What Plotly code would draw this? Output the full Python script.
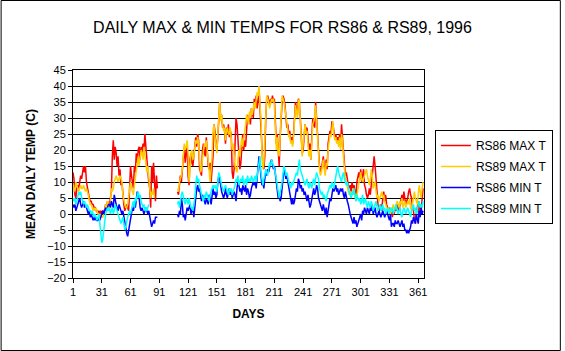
import plotly.graph_objects as go

days = list(range(1, 367))
gap = [None] * 20  # days 90-109: no data

rs86_max = [
    13, 11, 6, 5, 8, 9, 8, 10, 12, 11,
    14, 15, 13, 15, 10, 8, 7, 5, 4, 4,
    3, 3, 2, 2, 1, 1, 0, 1, 0, 1,
    0, 1, 0, 2, 3, 2, 4, 3, 3, 5,
    7, 18, 23, 17, 21, 19, 15, 18, 12, 14,
    9, 10, 5, 3, 1, 2, 3, 2, 1, 8,
    15, 12, 10, 8, 15, 13, 19, 16, 20, 21,
    17, 21, 19, 22, 20, 25, 21, 17, 12, 10,
    8, 2, 15, 10, 16, 7, 4, 12, 8,
] + gap + [
    7, 6, 9, 12, 10, 13, 18, 21, 16, 20,
    22, 12, 9, 17, 19, 16, 15, 18, 22, 24,
    21, 25, 23, 14, 13, 12, 20, 22, 19, 18,
    24, 17, 15, 14, 16, 10, 15, 18, 28, 26,
    22, 20, 24, 33, 35, 30, 31, 27, 28, 26,
    22, 27, 25, 28, 24, 26, 25, 13, 11, 14,
    24, 30, 28, 22, 18, 14, 16, 22, 25, 20,
    23, 21, 28, 31, 29, 30, 28, 33, 32, 30,
    36, 34, 37, 33, 35, 39, 33, 28, 22, 15,
    14, 18, 30, 36, 37, 35, 34, 36, 35, 37,
    35, 36, 30, 22, 25, 20, 15, 24, 30, 35,
    37, 36, 34, 30, 27, 28, 25, 26, 23, 24,
    22, 25, 30, 35, 33, 31, 36, 35, 30, 22,
    19, 20, 25, 28, 26, 27, 24, 20, 22, 17,
    24, 30, 28, 27, 35, 30, 25, 19, 15, 13,
    14, 16, 18, 15, 13, 17, 14, 22, 25, 26,
    25, 29, 28, 26, 24, 25, 23, 24, 22, 25,
    21, 28, 24, 17, 14, 12, 13, 10, 9, 8,
    9, 7, 10, 8, 9, 7, 5, 10, 12, 13,
    11, 14, 10, 12, 14, 9, 8, 6, 5, 6,
    8, 6, 9, 10, 13, 18, 15, 10, 5, 3,
    2, 1, 3, 1, 5, 7, 4, 6, 3, 2,
    1, 2, 0, 1, -1, 1, 0, 2, 1, 3,
    2, 1, 3, 5, 6, 4, 7, 5, 3, 4,
    5, 7, 8, 6, 5, 2, 1, -2, -3, 0,
    2, 4, -1, 3, 1, 5, 8,
]

rs89_max = [
    9, 7, 8, 10, 9, 8, 7, 8, 9, 8,
    8, 9, 8, 7, 8, 7, 6, 4, 3, 3,
    2, 1, 2, 1, 2, 1, 0, 0, -1, 0,
    -1, -1, 0, 1, 3, 2, 4, 3, 2, 3,
    8, 7, 8, 10, 11, 12, 11, 10, 11, 12,
    11, 10, 6, 4, 3, 2, 2, 3, 5, 7,
    10, 8, 7, 6, 9, 11, 13, 16, 18, 15,
    18, 20, 19, 17, 21, 18, 16, 13, 15, 12,
    10, 5, 7, 6, 8, 5, None, None, None,
] + gap + [
    8, 7, 10, 11, 12, 14, 18, 22, 20, 21,
    23, 19, 10, 16, 19, 20, 17, 18, 21, 23,
    22, 24, 22, 15, 13, 14, 18, 20, 22, 21,
    23, 20, 17, 12, 10, 14, 18, 26, 28, 24,
    21, 19, 25, 32, 35, 29, 31, 28, 26, 27,
    23, 26, 27, 25, 25, 27, 24, 20, 22, 17,
    15, 14, 13, 17, 20, 18, 22, 24, 21, 23,
    26, 28, 31, 30, 28, 32, 30, 33, 31, 34,
    35, 33, 36, 38, 37, 40, 34, 30, 20, 14,
    16, 25, 34, 37, 36, 35, 33, 35, 36, 35,
    36, 34, 28, 20, 24, 19, 18, 26, 32, 37,
    36, 35, 33, 31, 28, 26, 24, 25, 22, 23,
    21, 24, 29, 34, 32, 30, 35, 36, 29, 20,
    18, 22, 26, 28, 25, 26, 22, 18, 20, 17,
    22, 28, 29, 30, 34, 29, 24, 18, 14, 12,
    13, 15, 17, 14, 12, 16, 15, 20, 24, 25,
    24, 28, 29, 25, 23, 24, 22, 23, 21, 24,
    20, 25, 23, 18, 13, 11, 10, 8, 7, 6,
    7, 5, 6, 8, 7, 6, 4, 6, 8, 10,
    12, 13, 11, 10, 11, 12, 13, 14, 12, 10,
    9, 11, 14, 12, 8, 9, 10, 7, 5, 6,
    4, 5, 6, 7, 5, 6, 4, 3, 2, 1,
    2, 1, 0, 1, 2, 3, 1, 2, 3, 4,
    3, 2, 4, 3, 5, 2, 3, 4, 2, 3,
    4, 3, 5, 2, 1, 3, 6, 7, 5, 4,
    3, 6, 9, 7, 5, 8, 10,
]

rs86_min = [
    3, 2, 3, 1, 2, 3, 4, 5, 3, 2,
    3, 4, 2, 3, 2, 1, 0, 1, -1, 0,
    -1, -2, -1, -2, -1, -2, -2, -1, -2, -1,
    0, 1, 0, 1, 2, 1, 2, 3, 3, 2,
    4, 3, 2, 6, 4, 3, 2, 1, 3, 2,
    1, 0, 1, -1, -2, -4, -6, -7, -5, -3,
    -2, 0, 2, 1, 3, 2, 4, 7, 6, 5,
    2, 1, 2, 1, 0, 1, 2, 1, 0, 1,
    -1, -2, -4, -3, -2, -3, -1, -1, -1,
] + gap + [
    0, -1, 1, 0, 5, 3, -1, 0, -2, 1,
    2, 1, 2, 3, 0, 1, 2, -1, 3, 6,
    8, 9, 7, 8, 5, 4, 6, 5, 4, 3,
    5, 4, 3, 6, 5, 3, 7, 8, 6, 7,
    5, 6, 10, 12, 11, 8, 7, 6, 5, 6,
    8, 6, 5, 7, 8, 6, 7, 5, 6, 7,
    6, 4, 8, 10, 9, 7, 8, 6, 9, 8,
    7, 9, 6, 8, 7, 5, 6, 8, 9, 10,
    9, 10, 8, 11, 13, 18, 15, 12, 9, 10,
    8, 11, 13, 12, 14, 13, 15, 16, 17, 15,
    14, 15, 12, 10, 8, 5, 6, 4, 5, 9,
    12, 14, 13, 11, 12, 10, 8, 6, 4, 3,
    5, 3, 4, 6, 8, 7, 11, 10, 8, 9,
    7, 8, 6, 7, 5, 4, 6, 3, 2, 3,
    5, 7, 8, 6, 7, 9, 8, 5, 4, 3,
    2, 1, 3, 1, 0, 2, -1, 1, 3, 5,
    4, 6, 8, 7, 8, 9, 7, 8, 6, 7,
    8, 7, 8, 6, 5, 7, 5, 4, 3, 1,
    0, -1, -2, -3, -1, -3, -2, -4, -3, -2,
    -1, 0, -2, 1, 0, 2, 1, 0, 2, 1,
    0, 2, 1, 3, 0, 1, 2, 0, -1, 0,
    1, 0, -1, 0, 1, 0, -1, 0, 1, 0,
    -1, -2, 0, -4, -3, -3, -4, -2, -3, -3,
    -2, -3, -4, -3, -2, -4, -3, -5, -5, -6,
    -5, -6, -5, -4, -2, -3, -1, -2, -3, 0,
    -2, -3, 1, -1, 2, 0, 1,
]

rs89_min = [
    5, 4, 5, 3, 4, 6, 7, 6, 7, 5,
    4, 3, 4, 3, 2, 3, 2, 1, 1, 0,
    1, 0, -1, 0, -1, -2, -1, 0, -3, -6,
    -9, -8, -5, -1, 0, 1, 2, 1, 2, 0,
    1, 2, 0, 1, 3, 2, 1, 0, -1, -2,
    -3, -2, -1, -3, -5, -4, -2, -1, 0, 1,
    0, 2, 3, 4, 2, 5, 4, 6, 7, 5,
    6, 4, 3, 2, 3, 1, 2, 1, 2, 3,
    None, None, None, None, None, None, None, None, None,
] + gap + [
    3, 4, 2, 5, 6, 7, 5, 4, 3, 5,
    4, 3, 5, 3, 2, 2, 1, 3, 5, 9,
    12, 10, 11, 9, 7, 6, 5, 4, 6, 5,
    7, 6, 5, 4, 6, 7, 8, 9, 8, 9,
    8, 7, 10, 13, 12, 10, 9, 8, 7, 8,
    9, 8, 7, 6, 8, 7, 8, 6, 7, 8,
    9, 11, 10, 12, 9, 10, 11, 10, 12, 9,
    10, 11, 9, 12, 10, 11, 10, 12, 11, 10,
    11, 12, 10, 12, 14, 17, 18, 13, 10, 9,
    11, 12, 14, 13, 12, 14, 16, 15, 17, 16,
    15, 14, 13, 11, 9, 6, 5, 7, 8, 10,
    13, 15, 14, 12, 13, 11, 10, 9, 8, 10,
    9, 10, 11, 12, 13, 12, 15, 17, 14, 13,
    12, 11, 10, 9, 10, 11, 9, 8, 10, 9,
    8, 10, 11, 9, 12, 13, 12, 11, 8, 7,
    6, 7, 5, 6, 5, 4, 6, 7, 8, 9,
    8, 10, 9, 8, 10, 12, 14, 15, 13, 12,
    11, 10, 12, 13, 11, 10, 9, 10, 8, 7,
    6, 5, 7, 6, 8, 5, 4, 6, 5, 4,
    5, 3, 4, 6, 3, 4, 5, 3, 2, 4,
    3, 2, 4, 3, 1, 2, 3, 4, 2, 1,
    2, 3, 1, 2, 3, 1, 2, 0, 1, 2,
    1, 0, 2, 1, 2, 0, 1, 2, 3, 1,
    0, 1, 2, 0, -1, 1, 2, 1, 0, 1,
    2, 1, 0, -1, 1, 2, 3, 1, 2, 0,
    1, 3, 4, 2, 3, 2, 4,
]

series_names = ["RS86 MAX T", "RS89 MAX T", "RS86 MIN T", "RS89 MIN T"]
series_values = [rs86_max, rs89_max, rs86_min, rs89_min]
series_colors = ["#FF0000", "#FFCC00", "#0000FF", "#00FFFF"]

W, H = 565, 351
L, R, T, B = 73, 138, 70, 73
pw, ph = W - L - R, H - T - B

FONT = "Arial, Liberation Sans, sans-serif"

fig = go.Figure()
for i, (name, vals, col) in enumerate(zip(series_names, series_values, series_colors)):
    fig.add_trace(go.Scatter(
        x=days, y=vals, mode="lines", name=name,
        line=dict(color=col, width=1.5),
        connectgaps=False, legendgroup=str(i),
    ))

fig.update_layout(
    width=W, height=H,
    margin=dict(l=L, r=R, t=T, b=B, pad=0),
    paper_bgcolor="white", plot_bgcolor="white",
    font=dict(family=FONT, color="black", size=11),
    title=dict(text="DAILY MAX & MIN TEMPS FOR RS86 & RS89, 1996",
               x=0.5, xref="container", xanchor="center",
               y=1 - 27 / H, yref="container", yanchor="middle",
               font=dict(family=FONT, size=16, color="black")),
    showlegend=True,
    legend=dict(x=(438 - L) / pw, xanchor="left", y=(278 - 130) / ph, yanchor="top",
                bgcolor="white", bordercolor="black", borderwidth=1,
                font=dict(family=FONT, size=12, color="black"),
                tracegroupgap=2, itemwidth=30),
    xaxis=dict(range=[1, 367], tick0=1, dtick=30, showgrid=False, zeroline=False,
               showline=True, linecolor="black", linewidth=1, mirror=True,
               ticks="outside", ticklen=4, tickcolor="black",
               tickfont=dict(family=FONT, size=11),
               title=dict(text="<b>DAYS</b>", font=dict(family=FONT, size=12), standoff=12)),
    yaxis=dict(range=[-20, 45], tick0=-20, dtick=5, showgrid=True, gridcolor="black",
               gridwidth=1, zeroline=False,
               showline=True, linecolor="black", linewidth=1, mirror=True,
               ticks="outside", ticklen=4, tickcolor="black",
               tickfont=dict(family=FONT, size=11),
               title=dict(text="<b>MEAN DAILY TEMP (C)</b>", font=dict(family=FONT, size=12),
                          standoff=8)),
)

# outer chart border
fig.add_shape(type="rect", xref="paper", yref="paper",
              x0=(0.5 - L) / pw, x1=(W - 0.5 - L) / pw,
              y0=(T + ph - (H - 0.5)) / ph,
              y1=(T + ph - 0.5) / ph,
              line=dict(color="black", width=1), fillcolor="rgba(0,0,0,0)", layer="above")

fig.write_html("out.html")
